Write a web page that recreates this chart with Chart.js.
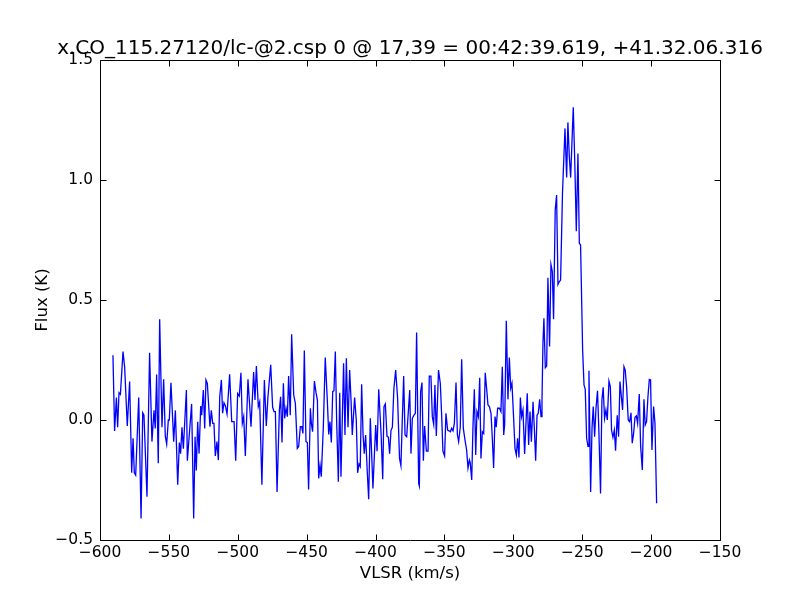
<!DOCTYPE html>
<html>
<head>
<meta charset="utf-8">
<script src="https://cdn.jsdelivr.net/npm/chart.js@4/dist/chart.umd.min.js"></script>
<style>
html,body{margin:0;padding:0;background:#fff;}
canvas{display:block;}
</style>
</head>
<body>
<canvas id="c" width="800" height="600"></canvas>
<script>
const chartTitle = "x.CO_115.27120/lc-@2.csp 0 @ 17,39 = 00:42:39.619, +41.32.06.316";
const xLabel = "VLSR (km/s)";
const yLabel = "Flux (K)";
const xTicks = [-600,-550,-500,-450,-400,-350,-300,-250,-200,-150];
const yTicks = [-0.5,0.0,0.5,1.0,1.5];

const velocity = [
-590.6,-589.4,-588.1,-587.2,-586.2,-585.2,-583.3,-582.1,-580.2,-578.5,-577.0,-576.0,-575.1,-574.1,-571.9,-570.2,-569.0,-568.1,-565.9,-564.0,
-562.3,-560.8,-559.9,-558.9,-557.7,-556.7,-555.0,-553.8,-552.6,-551.6,-550.4,-549.7,-548.5,-546.5,-545.3,-543.6,-542.4,-541.5,-540.5,-539.5,
-537.3,-536.6,-533.5,-532.0,-531.0,-530.1,-529.1,-528.1,-526.9,-526.2,-525.0,-524.0,-523.1,-522.1,-520.2,-519.2,-518.2,-517.3,-516.3,-515.1,
-514.1,-513.1,-511.9,-511.0,-510.0,-509.0,-507.8,-505.9,-504.4,-502.7,-501.5,-500.1,-498.9,-497.7,-496.7,-495.7,-494.5,-492.6,-490.4,-488.5,
-487.5,-486.5,-485.1,-484.1,-482.5,-480.7,-479.3,-478.1,-476.1,-474.7,-473.7,-472.7,-471.5,-469.8,-468.9,-467.9,-466.9,-466.0,-465.0,-464.0,
-463.1,-461.9,-460.9,-459.4,-458.2,-456.8,-455.8,-454.6,-453.6,-452.7,-451.7,-450.5,-449.5,-448.6,-447.3,-446.6,-445.7,-444.4,-443.2,-442.2,
-441.3,-440.3,-439.4,-437.9,-436.5,-435.0,-434.0,-433.1,-432.1,-431.1,-430.2,-429.2,-428.2,-427.0,-426.0,-425.1,-423.2,-422.2,-421.2,-420.0,
-418.8,-417.8,-416.9,-415.2,-414.0,-413.0,-412.0,-411.1,-410.1,-409.1,-408.2,-407.2,-406.2,-405.0,-403.8,-401.9,-399.9,-398.9,-397.7,-396.0,
-394.8,-393.9,-392.9,-391.7,-390.7,-389.8,-388.8,-387.8,-386.7,-385.4,-384.0,-382.6,-381.6,-379.6,-378.6,-377.4,-375.2,-374.3,-373.3,-372.1,
-371.1,-370.2,-368.7,-368.2,-367.3,-366.3,-365.3,-364.4,-363.1,-361.9,-361.0,-359.8,-358.8,-357.8,-356.9,-355.9,-354.3,-353.0,-352.1,-351.1,
-349.9,-348.9,-347.7,-346.7,-345.7,-344.8,-343.8,-342.8,-341.6,-340.6,-339.7,-338.5,-337.5,-336.3,-334.9,-333.9,-332.9,-331.9,-331.3,-330.2,
-329.3,-328.3,-327.3,-326.4,-325.4,-324.4,-323.5,-322.5,-321.5,-320.4,-319.4,-318.4,-317.4,-316.2,-315.2,-314.3,-313.3,-312.4,-311.4,-310.0,
-309.0,-308.0,-307.0,-306.3,-305.1,-303.9,-302.9,-301.9,-301.0,-299.8,-298.8,-297.8,-296.9,-295.9,-294.9,-294.0,-293.0,-291.8,-290.8,-289.9,
-288.9,-287.9,-286.9,-285.7,-284.8,-283.8,-282.8,-281.9,-280.9,-279.9,-279.2,-278.5,-277.8,-276.8,-275.8,-274.9,-273.7,-272.7,-271.7,-270.8,
-269.6,-268.6,-267.6,-266.7,-265.7,-264.3,-262.5,-261.3,-260.4,-259.4,-258.4,-256.5,-255.3,-254.3,-253.1,-252.1,-251.2,-249.7,-248.7,-247.8,
-246.8,-245.8,-245.1,-243.9,-242.9,-242.0,-241.0,-240.0,-238.9,-237.9,-236.7,-235.7,-234.8,-233.8,-232.8,-231.8,-230.6,-229.6,-228.7,-227.7,
-226.7,-225.8,-224.6,-223.6,-222.6,-221.6,-220.7,-219.7,-218.8,-217.8,-216.6,-215.6,-214.6,-213.7,-212.7,-211.7,-210.7,-209.8,-208.6,-207.6,
-206.4,-205.2,-204.3,-203.3,-202.3,-201.3,-200.4,-199.4,-198.2,-197.2,-196.0
];

const flux = [
0.27,-0.046,0.094,-0.03,0.114,0.107,0.285,0.22,-0.025,0.16,-0.22,-0.076,-0.22,-0.23,0.094,-0.41,0.03,0.02,-0.32,0.28,
-0.09,0.04,-0.035,0.19,-0.18,0.42,-0.03,0.17,-0.067,-0.1,0.0,0.0,0.155,-0.09,0.04,-0.27,-0.094,-0.14,-0.03,-0.12,
0.125,-0.17,0.067,-0.41,-0.07,-0.21,-0.007,-0.14,0.058,0.02,0.125,-0.035,0.167,0.153,-0.028,0.04,-0.014,-0.014,-0.15,-0.09,
-0.167,0.097,0.167,0.028,0.072,0.06,0.025,0.19,-0.007,-0.007,-0.17,0.11,0.10,0.197,-0.014,0.014,-0.15,0.17,-0.028,0.2,
0.083,0.225,0.056,0.076,-0.27,0.167,-0.025,0.097,0.23,0.053,0.035,0.035,-0.30,0.042,0.097,-0.094,0.153,0.007,0.049,0.014,
0.183,0.02,0.357,0.104,0.069,-0.118,-0.11,-0.028,-0.028,-0.056,0.29,-0.09,-0.094,-0.29,0.049,-0.014,-0.049,0.162,0.114,0.083,
-0.243,-0.188,-0.236,-0.028,0.26,0.08,-0.06,-0.007,-0.094,0.118,0.122,0.285,-0.014,-0.257,0.114,-0.236,0.236,-0.0625,0.257,-0.03,
0.208,0.083,-0.0625,0.094,0.0,-0.22,-0.183,-0.194,0.149,-0.056,-0.14,-0.0625,-0.194,-0.33,0.007,-0.285,-0.021,-0.13,0.128,-0.056,
-0.247,0.056,0.067,-0.067,-0.072,-0.14,-0.044,-0.03,0.13,0.208,0.09,-0.16,-0.19,0.183,-0.0625,-0.07,0.125,-0.14,0.007,0.02,
0.028,0.365,-0.264,-0.275,0.118,0.156,-0.17,-0.025,-0.13,-0.13,0.183,0.183,0.014,-0.018,0.146,-0.067,0.208,0.153,0.03,-0.13,
-0.15,0.028,-0.042,-0.045,-0.049,-0.035,-0.045,-0.014,0.156,-0.0625,-0.09,-0.028,0.253,-0.035,-0.09,-0.125,-0.2,-0.167,-0.178,-0.25,
-0.028,0.128,-0.146,0.035,0.014,0.176,-0.16,-0.049,-0.056,0.197,0.132,0.0625,0.056,0.028,-0.083,-0.2,0.014,-0.03,0.049,0.049,
0.035,0.222,-0.0625,-0.02,0.414,0.086,0.26,0.132,0.153,0.01,-0.118,-0.146,-0.076,-0.156,0.094,0.014,0.042,-0.142,-0.01,0.111,
-0.104,0.035,-0.09,0.076,-0.028,-0.17,0.02,0.028,0.086,0.014,0.08,0.32,0.424,0.218,0.225,0.593,0.306,0.648,0.618,0.42,
0.875,0.937,0.565,0.576,0.583,0.95,1.215,1.01,1.24,1.1,1.01,1.303,1.05,0.787,1.11,0.736,0.729,0.292,0.146,0.128,
-0.076,-0.11,0.205,-0.3,-0.035,0.056,-0.07,0.049,0.122,-0.049,-0.306,0.083,0.136,0.007,0.042,0.0,0.162,0.139,-0.042,-0.072,
-0.042,-0.128,0.02,-0.07,0.16,0.097,0.042,0.222,0.208,0.14,0.0,-0.007,0.03,-0.097,-0.056,0.011,0.017,-0.014,0.108,-0.11,
-0.208,0.086,-0.021,-0.007,0.097,0.169,0.167,-0.125,0.056,-0.014,-0.347
];

const points = velocity.map((v, i) => ({x: v, y: flux[i]}));
const FONT = "'DejaVu Sans', sans-serif";
const minus = s => String(s).replace('-', '\u2212');

const framePlugin = {
  id: 'frame',
  afterDraw(chart) {
    const ctx = chart.ctx;
    const a = chart.chartArea;
    const xs = chart.scales.x, ys = chart.scales.y;
    ctx.save();
    ctx.strokeStyle = '#000';
    ctx.lineWidth = 1;
    const L = Math.round(a.left) + 0.5, R = Math.round(a.right) + 0.5;
    const T = Math.round(a.top) + 0.5, B = Math.round(a.bottom) + 0.5;
    ctx.beginPath();
    ctx.rect(L, T, R - L, B - T);
    ctx.stroke();
    ctx.beginPath();
    xTicks.forEach(v => {
      const px = Math.round(xs.getPixelForValue(v)) + 0.5;
      ctx.moveTo(px, B); ctx.lineTo(px, B - 6);
      ctx.moveTo(px, T); ctx.lineTo(px, T + 6);
    });
    yTicks.forEach(v => {
      const py = Math.round(ys.getPixelForValue(v)) + 0.5;
      ctx.moveTo(L, py); ctx.lineTo(L + 6, py);
      ctx.moveTo(R, py); ctx.lineTo(R - 6, py);
    });
    ctx.stroke();
    ctx.fillStyle = '#000';
    ctx.textAlign = 'center';
    ctx.textBaseline = 'alphabetic';
    ctx.font = '20px ' + FONT;
    ctx.fillText(chartTitle, (a.left + a.right) / 2, 54);
    ctx.font = '16.5px ' + FONT;
    ctx.fillText(xLabel, (a.left + a.right) / 2, 578);
    ctx.save();
    ctx.translate(47, (a.top + a.bottom) / 2);
    ctx.rotate(-Math.PI / 2);
    ctx.fillText(yLabel, 0, 0);
    ctx.restore();
    ctx.restore();
  }
};

new Chart(document.getElementById('c'), {
  type: 'line',
  data: {
    datasets: [{
      data: points,
      borderColor: 'rgb(0,0,255)',
      borderWidth: 1.3,
      pointRadius: 0,
      tension: 0,
      fill: false
    }]
  },
  options: {
    responsive: false,
    animation: false,
    devicePixelRatio: 1,
    layout: { padding: { top: 60, right: 80, left: 0, bottom: 0 } },
    plugins: { legend: { display: false }, title: { display: false }, tooltip: { enabled: false } },
    scales: {
      x: {
        type: 'linear',
        min: -600, max: -150,
        afterBuildTicks: s => { s.ticks = xTicks.map(v => ({value: v})); },
        afterFit: s => { s.height = 60; },
        grid: { display: false, drawTicks: false },
        border: { display: false },
        ticks: { color: '#000', font: { family: FONT, size: 15.5 }, padding: 4, maxRotation: 0, autoSkip: false,
                 callback: v => minus(v) }
      },
      y: {
        type: 'linear',
        min: -0.5, max: 1.5,
        afterBuildTicks: s => { s.ticks = yTicks.map(v => ({value: v})); },
        afterFit: s => { s.width = 100; },
        grid: { display: false, drawTicks: false },
        border: { display: false },
        ticks: { color: '#000', font: { family: FONT, size: 15.5 }, padding: 7, autoSkip: false,
                 callback: v => minus(Number(v).toFixed(1)) }
      }
    }
  },
  plugins: [framePlugin]
});
</script>
</body>
</html>
